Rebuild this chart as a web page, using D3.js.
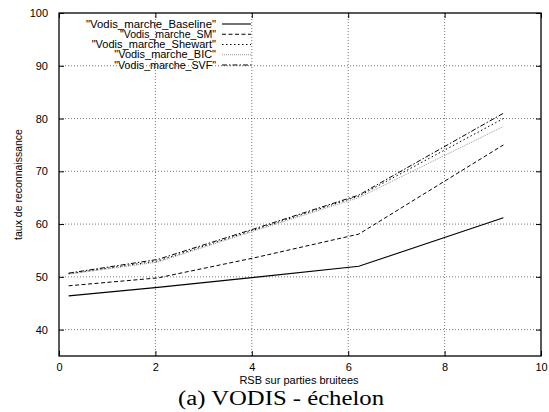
<!DOCTYPE html>
<html>
<head>
<meta charset="utf-8">
<script src="https://cdn.jsdelivr.net/npm/d3@7"></script>
<style>
  body { margin: 0; background: #fff; }
  svg { display: block; }
</style>
</head>
<body>
<svg id="graph" width="549" height="412"></svg>
<script>
(function() {
    // data
    var rsb = [0.2, 2.05, 4.05, 6.22, 9.22];
    var baseline = [46.4, 48.0, 49.9, 52.0, 61.2];
    var sm       = [48.3, 49.8, 53.6, 58.1, 75.0];
    var shewart  = [50.6, 53.0, 58.9, 65.3, 80.0];
    var bic      = [50.5, 52.8, 58.7, 65.0, 78.5];
    var svf      = [50.7, 53.3, 59.1, 65.5, 81.0];
    var names = ['"Vodis_marche_Baseline"', '"Vodis_marche_SM"', '"Vodis_marche_Shewart"',
                 '"Vodis_marche_BIC"', '"Vodis_marche_SVF"'];
    var xTicks = [0, 2, 4, 6, 8, 10];
    var yTicks = [40, 50, 60, 70, 80, 90, 100];

    var series = [baseline, sm, shewart, bic, svf];
    var styles = [
        { stroke: "#000", dash: null, w: 1.1 },
        { stroke: "#000", dash: "4,2.5", w: 1 },
        { stroke: "#000", dash: "1.5,2.5", w: 1 },
        { stroke: "#999", dash: "1,1", w: 1 },
        { stroke: "#000", dash: "5,2,1.5,2", w: 1 }
    ];

    var svg = d3.select("#graph");
    var margin = { top: 13, right: 8, bottom: 56, left: 59 };
    var width = 549, height = 412;

    var x = d3.scaleLinear().domain([0, 10]).range([margin.left, width - margin.right]);
    var y = d3.scaleLinear().domain([35, 100]).range([height - margin.bottom, margin.top]);

    var font = "'Liberation Sans', Arial, Helvetica, sans-serif";

    // grid
    var grid = svg.append("g")
        .attr("stroke", "#555").attr("stroke-width", 0.8).attr("stroke-dasharray", "1,2");
    grid.selectAll(".gx").data(xTicks.slice(1, -1)).join("line")
        .attr("x1", d => x(d)).attr("x2", d => x(d))
        .attr("y1", y(35)).attr("y2", y(100));
    grid.selectAll(".gy").data(yTicks.slice(0, -1)).join("line")
        .attr("x1", x(0)).attr("x2", x(10))
        .attr("y1", d => y(d)).attr("y2", d => y(d));

    // axes (gnuplot style: inward ticks, mirrored)
    var xAxis = g => g
        .attr("transform", `translate(0,${y(35)})`)
        .call(d3.axisBottom(x).tickValues(xTicks).tickSize(-5).tickPadding(7).tickFormat(d3.format("d")))
        .call(g => g.select(".domain").remove());
    var xAxisTop = g => g
        .attr("transform", `translate(0,${y(100)})`)
        .call(d3.axisTop(x).tickValues(xTicks).tickSize(-5).tickFormat(""))
        .call(g => g.select(".domain").remove());
    var yAxis = g => g
        .attr("transform", `translate(${x(0)},0)`)
        .call(d3.axisLeft(y).tickValues(yTicks).tickSize(-5).tickPadding(11))
        .call(g => g.select(".domain").remove());
    var yAxisRight = g => g
        .attr("transform", `translate(${x(10)},0)`)
        .call(d3.axisRight(y).tickValues(yTicks).tickSize(-5).tickFormat(""))
        .call(g => g.select(".domain").remove());

    [xAxis, xAxisTop, yAxis, yAxisRight].forEach(function(a) {
        svg.append("g").call(a)
            .attr("font-family", font).attr("font-size", 11)
            .call(g => g.selectAll("text").attr("fill", "#000"))
            .call(g => g.selectAll("line").attr("stroke", "#000"));
    });

    // frame
    svg.append("rect")
        .attr("x", x(0)).attr("y", y(100))
        .attr("width", x(10) - x(0)).attr("height", y(35) - y(100))
        .attr("fill", "none").attr("stroke", "#000").attr("stroke-width", 1.3);

    // lines
    var line = d3.line().x((d, i) => x(rsb[i])).y(d => y(d));
    svg.append("g").selectAll("path").data(series).join("path")
        .attr("d", d => line(d))
        .attr("fill", "none")
        .attr("stroke", (d, i) => styles[i].stroke)
        .attr("stroke-width", (d, i) => styles[i].w)
        .attr("stroke-dasharray", (d, i) => styles[i].dash);

    // legend
    var leg = svg.append("g").attr("font-family", font).attr("font-size", 10);
    var ly = d3.scaleLinear().domain([0, 4]).range([24, 65]);
    leg.selectAll("text").data(names).join("text")
        .attr("x", 216).attr("y", (d, i) => ly(i)).attr("dy", "0.35em")
        .attr("text-anchor", "end")
        .attr("textLength", d => d.length * 5.65).attr("lengthAdjust", "spacingAndGlyphs")
        .text(d => d);
    leg.selectAll("line").data(styles).join("line")
        .attr("x1", 222).attr("x2", 251)
        .attr("y1", (d, i) => ly(i)).attr("y2", (d, i) => ly(i))
        .attr("stroke", d => d.stroke).attr("stroke-width", d => d.w)
        .attr("stroke-dasharray", d => d.dash);

    // axis labels
    svg.append("text")
        .attr("x", 299).attr("y", 384)
        .attr("text-anchor", "middle").attr("font-family", font).attr("font-size", 11)
        .text("RSB sur parties bruitees");
    svg.append("text")
        .attr("transform", `translate(22,${(y(35) + y(100)) / 2}) rotate(-90)`)
        .attr("text-anchor", "middle").attr("font-family", font).attr("font-size", 10.5)
        .text("taux de reconnaissance");
    svg.append("text")
        .attr("x", 281).attr("y", 405)
        .attr("text-anchor", "middle")
        .attr("font-family", "'Liberation Serif', 'Times New Roman', serif").attr("font-size", 20)
        .attr("textLength", 206).attr("lengthAdjust", "spacingAndGlyphs")
        .text("(a) VODIS - échelon");
})();
</script>
</body>
</html>
